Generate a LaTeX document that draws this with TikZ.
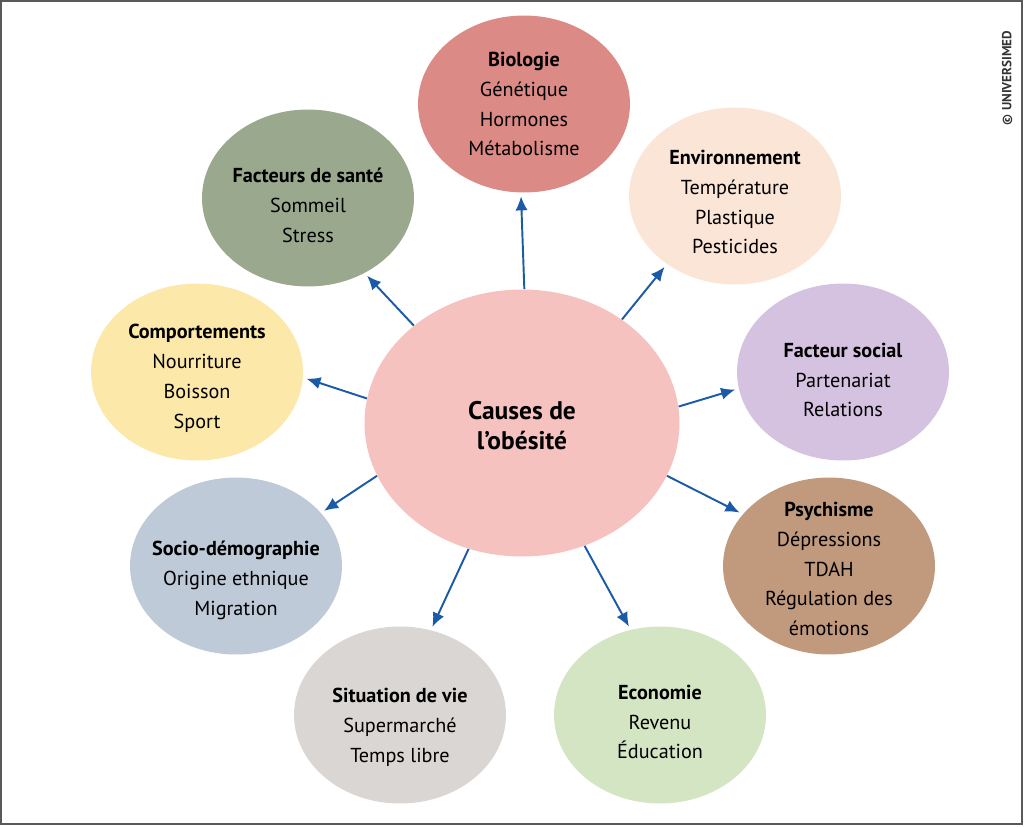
\documentclass[tikz,border=0pt]{standalone}
\usepackage{fontspec}
\setmainfont{PT Sans}
\usetikzlibrary{shapes.geometric,arrows.meta}

\definecolor{fleche}{HTML}{1B5AA7}
\definecolor{cCause}{HTML}{F5C2C0}
\definecolor{cBio}{HTML}{DB8A85}
\definecolor{cSante}{HTML}{9AA98E}
\definecolor{cEnv}{HTML}{FBE5D6}
\definecolor{cComport}{HTML}{FCE9A9}
\definecolor{cSocial}{HTML}{D5C2E0}
\definecolor{cSocio}{HTML}{BECAD7}
\definecolor{cPsycho}{HTML}{C19A7E}
\definecolor{cSituation}{HTML}{DAD6D3}
\definecolor{cEco}{HTML}{D4E5C3}

\tikzset{
	bulle/.style={ellipse, draw=none, fill=#1, minimum width=4.24cm, minimum height=3.54cm, inner sep=0pt},
	centre/.style={ellipse, draw=none, fill=cCause, minimum width=6.3cm, minimum height=5.34cm, inner sep=0pt},
	texte/.style={inner sep=0pt, align=center, font=\fontsize{11.5}{17}\selectfont},
	titre/.style={inner sep=0pt, align=center, font=\fontsize{14.5}{17}\selectfont\bfseries},
	lien/.style={draw=fleche, line width=1.1pt, shorten >=2pt,
		-{Latex[length=8pt,width=7pt]}}
}

\begin{document}
\begin{tikzpicture}[x=0.02cm, y=-0.02cm]
			%%%%% START %%%%%
			
			\useasboundingbox (0, 0) rectangle (1024, 826);
			\draw[line width=1.1pt, color=black!65] (1, 1) rectangle (1022, 824);
			
			\node[rotate=90, font=\fontsize{7.5}{9}\selectfont\bfseries, color=black!80] (copy) at (1007, 78) {\char"00A9\ UNIVERSIMED};
			
			% bulles
			\node[centre] (cause) at (522, 423) {};
			\node[bulle=cBio] (bio) at (524, 104) {};
			\node[bulle=cSante] (sante) at (308, 198) {};
			\node[bulle=cEnv] (env) at (735, 196) {};
			\node[bulle=cComport] (comport) at (197, 372) {};
			\node[bulle=cSocial] (social) at (843, 372) {};
			\node[bulle=cSocio] (socio) at (236, 566) {};
			\node[bulle=cPsycho] (psycho) at (829, 566) {};
			\node[bulle=cSituation] (situation) at (400, 715) {};
			\node[bulle=cEco] (eco) at (660, 715) {};
			
			% textes
			\node[titre] (causeT) at (522, 426) {Causes de\\l’obésité};
			\node[texte] (bioT) at (524, 104) {\textbf{Biologie}\\Génétique\\Hormones\\Métabolisme};
			\node[texte] (santeT) at (308, 205) {\textbf{Facteurs de santé}\\Sommeil\\Stress};
			\node[texte] (envT) at (735, 202) {\textbf{Environnement}\\Température\\Plastique\\Pesticides};
			\node[texte] (comportT) at (197, 378) {\textbf{Comportements}\\Nourriture\\Boisson\\Sport};
			\node[texte] (socialT) at (843, 380) {\textbf{Facteur social}\\Partenariat\\Relations};
			\node[texte] (socioT) at (236, 580) {\textbf{Socio-démographie}\\Origine ethnique\\Migration};
			\node[texte] (psychoT) at (829, 569) {\textbf{Psychisme}\\Dépressions\\TDAH\\Régulation des\\émotions};
			\node[texte] (situationT) at (400, 727) {\textbf{Situation de vie}\\Supermarché\\Temps libre};
			\node[texte] (ecoT) at (660, 722) {\textbf{Economie}\\Revenu\\Éducation};
			
			% fleches
			\draw[lien] (cause.89) -- (bio.268);
			\draw[lien] (cause.138) -- (sante.307);
			\draw[lien] (cause.46) -- (env.225);
			\draw[lien] (cause.171) -- (comport.357);
			\draw[lien] (cause.6) -- (social.189);
			\draw[lien] (cause.200) -- (socio.32);
			\draw[lien] (cause.340) -- (psycho.149);
			\draw[lien] (cause.247) -- (situation.70);
			\draw[lien] (cause.297) -- (eco.109);
			
			%%%%% END %%%%%
\end{tikzpicture}
\end{document}
